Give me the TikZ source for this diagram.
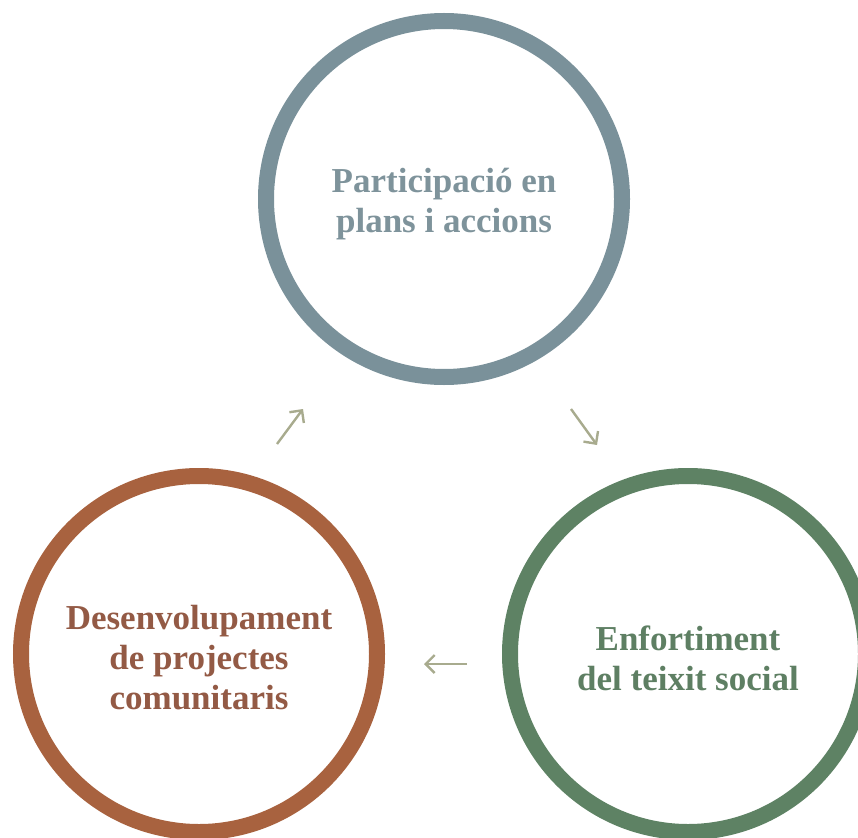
\documentclass[tikz,border=0pt]{standalone}
\usepackage{fontspec}
\setmainfont{Liberation Serif}
\usepackage{xcolor}
\usepackage{tikz}
\usetikzlibrary{arrows.meta,positioning}
\definecolor{partic}{HTML}{7A919A}
\definecolor{particT}{HTML}{7E939B}
\definecolor{teixit}{HTML}{5E8264}
\definecolor{teixitT}{HTML}{5E7F63}
\definecolor{projec}{HTML}{A8623F}
\definecolor{projecT}{HTML}{935A45}
\definecolor{flow}{HTML}{A8AB8E}

\begin{document}
\begin{tikzpicture}[x=1pt, y=-1pt,
  ring/.style={circle, draw, line width=16pt, minimum size=356pt, inner sep=0pt},
  caption/.style={align=center, font=\fontsize{35}{40}\selectfont\bfseries},
  flowarrow/.style={draw=flow, line width=2.4pt,
    -{Straight Barb[length=9pt, width=18pt, line width=2.4pt]}}]
\useasboundingbox (0,0) rectangle (858,837);
\clip (0,0) rectangle (858,837);
% the three stages
\node[ring, draw=partic] (partic) at (444,199) {};
\node[ring, draw=teixit] (teixit) at (688,654) {};
\node[ring, draw=projec] (projec) at (199,654) {};
\node[caption, text=particT] (particL) at ([yshift=-5pt]partic.center) {Participació en\\plans i accions};
\node[caption, text=teixitT] (teixitL) at ([yshift=-4pt]teixit.center) {Enfortiment\\del teixit social};
\node[caption, text=projecT] (projecL) at ([yshift=-4pt]projec.center) {Desenvolupament\\de projectes\\comunitaris};
% arrows between them
\coordinate (a1) at (571,409); \coordinate (b1) at (597,445);
\coordinate (a2) at (467,664); \coordinate (b2) at (424,664);
\coordinate (a3) at (277,444); \coordinate (b3) at (303,409);
\draw[flowarrow] (a1) -- (b1);
\draw[flowarrow] (a2) -- (b2);
\draw[flowarrow] (a3) -- (b3);
\end{tikzpicture}
\end{document}
